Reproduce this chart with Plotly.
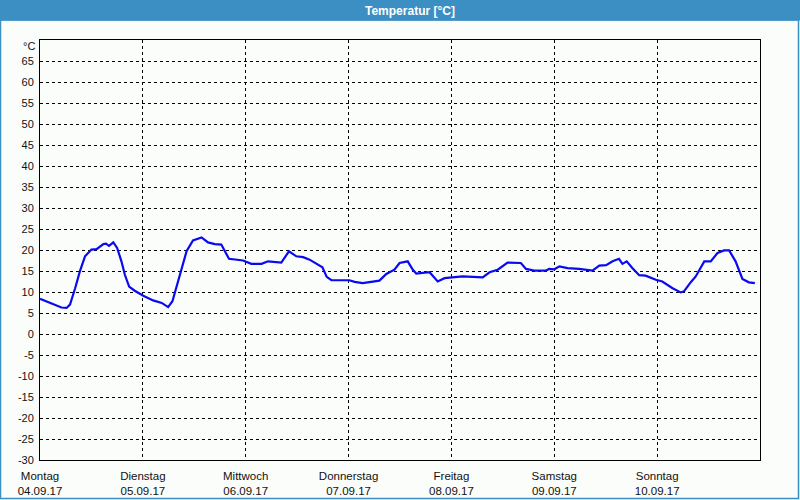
import plotly.graph_objects as go

# time in hours since Monday 04.09.17 00:00, temperature in °C
hours = [0.0, 2.3, 5.0, 6.2, 7.0, 8.2, 9.3, 10.5, 12.0, 13.2, 14.8, 15.4, 16.1, 17.1, 18.0,
         19.0, 19.8, 20.8, 22.1, 24.1, 26.4, 28.4, 29.9, 30.9, 31.9, 33.0, 34.2, 35.7, 37.7,
         39.2, 40.8, 42.3, 43.1, 44.1, 47.4, 49.3, 51.7, 53.2, 56.3, 58.1, 59.8, 61.4, 62.9,
         64.5, 65.9, 66.9, 68.0, 72.2, 73.4, 75.3, 76.9, 79.2, 80.8, 82.7, 83.9, 85.8, 87.0,
         87.8, 90.9, 92.8, 94.4, 98.6, 103.3, 104.9, 106.8, 109.1, 112.2, 113.4, 115.3, 118.1,
         118.8, 120.0, 121.2, 123.1, 125.8, 128.9, 130.5, 132.1, 133.6, 135.1, 135.9, 136.9,
         138.2, 139.8, 141.3, 143.7, 145.2, 147.6, 149.5, 150.3, 151.9, 153.0, 155.0, 156.5,
         158.1, 159.6, 160.8, 162.3, 163.9, 165.4, 166.8]
temps = [8.4, 7.5, 6.3, 6.2, 7.0, 10.9, 14.9, 18.5, 20.1, 20.2, 21.4, 21.5, 21.0, 21.8, 20.5,
         17.3, 14.1, 11.3, 10.3, 9.1, 8.0, 7.4, 6.4, 7.8, 11.3, 15.7, 19.7, 22.3, 23.0,
         21.8, 21.4, 21.3, 19.7, 17.9, 17.5, 16.7, 16.7, 17.3, 17.0, 19.7, 18.5, 18.3, 17.7,
         16.7, 15.9, 13.6, 12.8, 12.8, 12.4, 12.1, 12.3, 12.7, 14.3, 15.3, 16.9, 17.3, 15.3,
         14.4, 14.7, 12.5, 13.3, 13.7, 13.5, 14.7, 15.3, 17.0, 16.9, 15.5, 15.1, 15.1,
         15.5, 15.4, 16.1, 15.7, 15.5, 15.1, 16.3, 16.4, 17.3, 17.9, 16.7, 17.3,
         15.7, 14.0, 13.9, 12.9, 12.5, 10.9, 9.9, 10.2, 12.4, 13.7, 17.3, 17.3,
         19.3, 19.9, 19.9, 17.3, 13.1, 12.3, 12.1]

day_names = ["Montag", "Dienstag", "Mittwoch", "Donnerstag", "Freitag", "Samstag", "Sonntag"]
day_dates = ["04.09.17", "05.09.17", "06.09.17", "07.09.17", "08.09.17", "09.09.17", "10.09.17"]
day_hours = [0, 24, 48, 72, 96, 120, 144]

y_ticks = list(range(-30, 75, 5))
y_labels = [str(v) for v in y_ticks[:-1]] + [""]
unit_label = "°C"

title_text = "Temperatur [°C]"

BLUE = "#3c8fc3"
BG = "#fbfdfb"
FONT = "Liberation Sans, Arial, sans-serif"

fig = go.Figure()
fig.add_trace(go.Scatter(x=hours, y=temps, mode="lines",
                         line=dict(color="#0a0aee", width=2.2), hoverinfo="skip"))

L, R, T, B = 40, 40, 40, 40
W, H = 800, 500
pw, ph = W - L - R, H - T - B

def px_x(p):
    return (p - L) / pw

def px_y(p):
    return (H - B - p) / ph

fig.update_layout(
    width=W, height=H,
    margin=dict(l=L, r=R, t=T, b=B, autoexpand=False),
    paper_bgcolor=BG, plot_bgcolor=BG,
    showlegend=False,
    font=dict(family=FONT, size=11, color="#111111"),
    xaxis=dict(range=[0, 168], tickmode="array", tickvals=day_hours,
               ticktext=[f"{n}<br>{d}" for n, d in zip(day_names, day_dates)],
               tickfont=dict(size=11.5),
               showgrid=True, gridcolor="#000000", gridwidth=1, griddash="3px,3px",
               showline=True, linecolor="#000000", linewidth=1, mirror=True,
               zeroline=False, ticks="", ticklabelstandoff=5, fixedrange=True,
               automargin=False),
    yaxis=dict(range=[-30, 70], tickmode="array", tickvals=y_ticks, ticktext=y_labels,
               showgrid=True, gridcolor="#000000", gridwidth=1, griddash="3px,3px",
               showline=True, linecolor="#000000", linewidth=1, mirror=True,
               zeroline=False, ticks="", ticklabelstandoff=3, fixedrange=True,
               automargin=False),
    shapes=[
        dict(type="rect", xref="paper", yref="paper",
             x0=px_x(0), x1=px_x(800), y0=px_y(20.5), y1=px_y(0),
             fillcolor=BLUE, line=dict(width=0), layer="above"),
        dict(type="rect", xref="paper", yref="paper",
             x0=px_x(0.5), x1=px_x(798.5), y0=px_y(498.5), y1=px_y(20),
             fillcolor="rgba(0,0,0,0)", line=dict(color=BLUE, width=1.5), layer="above"),
    ],
    annotations=[
        dict(text=f"<b>{title_text}</b>", xref="paper", yref="paper",
             x=px_x(410), y=px_y(10.5), xanchor="center", yanchor="middle",
             showarrow=False, font=dict(family=FONT, size=12, color="#ffffff")),
        dict(text=unit_label, xref="paper", yref="paper",
             x=px_x(37), y=px_y(46), xanchor="right", yanchor="middle",
             showarrow=False, font=dict(family=FONT, size=11, color="#111111")),
    ],
)

fig.write_html("out.html", config={"displayModeBar": False},
               post_script="document.body.style.margin='0';document.body.style.padding='0';"
                           "document.body.style.overflow='hidden';")
